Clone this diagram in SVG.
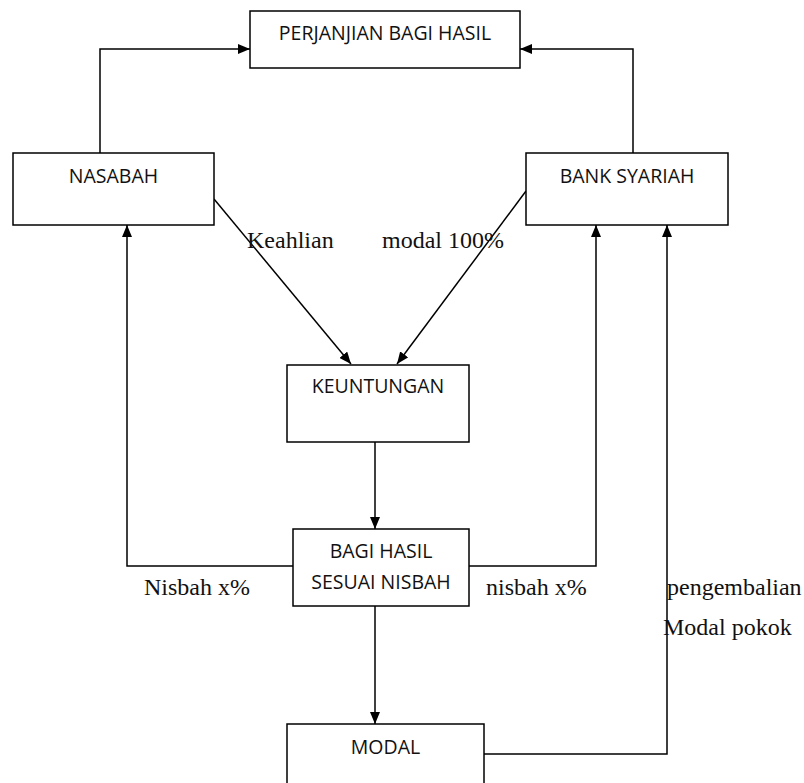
<svg xmlns="http://www.w3.org/2000/svg" width="804" height="783" viewBox="0 0 804 783">
<defs>
<marker id="ah" viewBox="0 0 12 10" refX="12" refY="5" markerWidth="12" markerHeight="10" markerUnits="userSpaceOnUse" orient="auto">
<path d="M0,0 L12,5 L0,10 z" fill="#000"/>
</marker>
<style>
.box{fill:#fff;stroke:#000;stroke-width:1.5}
.lbl{font-family:"Open Sans","DejaVu Sans",sans-serif;font-size:19.5px;fill:#111;text-anchor:middle}
.ser{font-family:"Liberation Serif","Times New Roman",serif;font-size:24px;fill:#111}
.con{fill:none;stroke:#000;stroke-width:1.5}
.arr{marker-end:url(#ah)}
</style>
</defs>
<rect width="804" height="783" fill="#fff"/>
<g id="connectors">
<polyline class="con arr" points="100,153 100,49 250,49"/>
<polyline class="con arr" points="633,153 633,49 520,49"/>
<line class="con arr" x1="214" y1="199" x2="351" y2="364"/>
<line class="con arr" x1="526" y1="191" x2="397" y2="364"/>
<line class="con arr" x1="375" y1="442" x2="375" y2="529"/>
<polyline class="con arr" points="293,566 127,566 127,225"/>
<polyline class="con arr" points="469,566 596,566 596,225"/>
<line class="con arr" x1="375" y1="606" x2="375" y2="724"/>
<polyline class="con arr" points="484,754 667,754 667,225"/>
</g>
<g id="node-perjanjian">
<rect class="box" x="250" y="11" width="270" height="57"/>
<text class="lbl" x="385" y="40">PERJANJIAN BAGI HASIL</text>
</g>
<g id="node-nasabah">
<rect class="box" x="13" y="153" width="201" height="72"/>
<text class="lbl" x="113.5" y="183">NASABAH</text>
</g>
<g id="node-bank">
<rect class="box" x="526" y="153" width="202" height="72"/>
<text class="lbl" x="627" y="183">BANK SYARIAH</text>
</g>
<g id="node-keuntungan">
<rect class="box" x="287" y="365" width="182" height="77"/>
<text class="lbl" x="378" y="393">KEUNTUNGAN</text>
</g>
<g id="node-bagihasil">
<rect class="box" x="293" y="529" width="176" height="77"/>
<text class="lbl" x="381" y="558">BAGI HASIL</text>
<text class="lbl" x="381" y="589">SESUAI NISBAH</text>
</g>
<g id="node-modal">
<rect class="box" x="287" y="724" width="197" height="80"/>
<text class="lbl" x="385.5" y="754">MODAL</text>
</g>
<g id="labels">
<text class="ser" x="247" y="248">Keahlian</text>
<text class="ser" x="382" y="248">modal 100%</text>
<text class="ser" x="144" y="595">Nisbah x%</text>
<text class="ser" x="486" y="595">nisbah x%</text>
<text class="ser" x="667" y="595">pengembalian</text>
<text class="ser" x="663" y="635">Modal pokok</text>
</g>
</svg>
